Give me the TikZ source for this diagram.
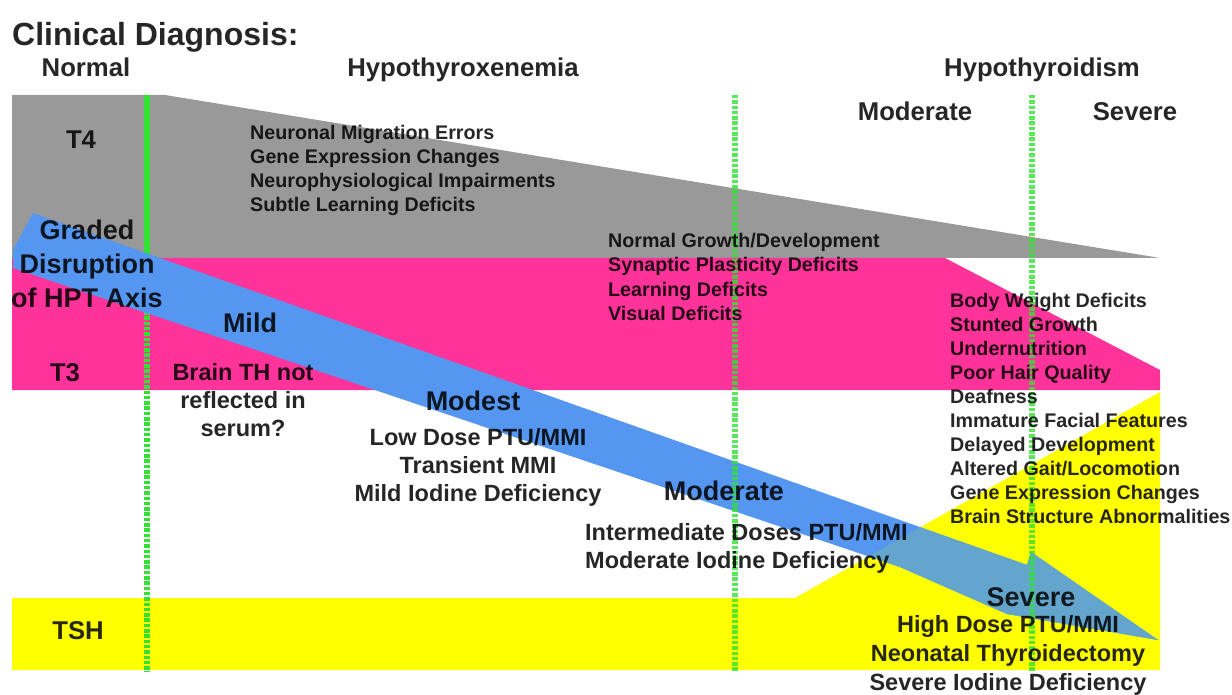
\documentclass[tikz,border=0pt]{standalone}
\usepackage{fontspec}
\setmainfont{Liberation Sans}

\definecolor{tfour}{RGB}{153,153,153}
\definecolor{tthree}{RGB}{255,51,153}
\definecolor{tsh}{RGB}{255,255,0}
\definecolor{hpt}{RGB}{85,150,240}
\definecolor{hptsh}{RGB}{100,165,205}
\definecolor{cut}{RGB}{50,225,50}

\begin{document}
\begin{tikzpicture}[x=1pt,y=-1pt,
  every node/.style={inner sep=0pt, text=black, text opacity=.85},
  big/.style={font=\bfseries\fontsize{32}{36}\selectfont},
  hdg/.style={font=\bfseries\fontsize{25.7}{30}\selectfont},
  band/.style={font=\bfseries\fontsize{27}{34}\selectfont},
  mid/.style={font=\bfseries\fontsize{23.5}{28}\selectfont},
  lst/.style={font=\bfseries\fontsize{19.7}{24}\selectfont},
  border/.style={cut, line width=6pt, dash pattern=on 3.5pt off 1.8pt}]
\useasboundingbox (0,0) rectangle (1232,695);
% hormone levels
\fill[tfour] (12,95) -- (165,95) -- (1160,258) -- (12,258) -- cycle;
\fill[tthree] (12,258) -- (945,258) -- (1160,370) -- (1160,390) -- (12,390) -- cycle;
\fill[tsh] (12,598) -- (795,598) -- (1160,392) -- (1160,670) -- (12,670) -- cycle;
\draw[cut, line width=6pt] (147,95) -- (147,258);
\draw[border] (147,258) -- (147,672);
% graded disruption arrow
\fill[hpt] (33,213) -- (1027,565) -- (1031,552) -- (1158,640) -- (1007,614)
  -- (900,567) -- (13,268) -- (13,250) -- cycle;
\begin{scope}
\clip (12,598) -- (795,598) -- (1160,392) -- (1160,670) -- (12,670) -- cycle;
\fill[hptsh] (33,213) -- (1027,565) -- (1031,552) -- (1158,640) -- (1007,614)
  -- (900,567) -- (13,268) -- (13,250) -- cycle;
\end{scope}
% diagnosis borders
\foreach \x in {735,1032}
\draw[border, draw opacity=.8] (\x,95) -- (\x,672);
% headings
\node[big, anchor=base west] (title) at (12,46) {Clinical Diagnosis:};
\node[hdg, anchor=base] (normal) at (86,77) {Normal};
\node[hdg, anchor=base] (hypox) at (463,77) {Hypothyroxenemia};
\node[hdg, anchor=base] (hypot) at (1042,77) {Hypothyroidism};
\node[hdg, anchor=base] (modhead) at (915,121) {Moderate};
\node[hdg, anchor=base] (sevhead) at (1135,121) {Severe};
\node[hdg, anchor=base] (tfourlbl) at (81,149) {T4};
\node[hdg, anchor=base] (tthreelbl) at (65,381) {T3};
\node[hdg, anchor=base] (tshlbl) at (78,639) {TSH};
% effects
\foreach \t [count=\i] in {Neuronal Migration Errors, Gene Expression Changes,
  Neurophysiological Impairments, Subtle Learning Deficits}
\node[lst, anchor=base west] (grayfx\i) at (250,{116+24*\i}) {\t};
\foreach \t [count=\i] in {Normal Growth/Development, Synaptic Plasticity Deficits,
  Learning Deficits, Visual Deficits}
\node[lst, anchor=base west] (midfx\i) at (608,{224+24*\i}) {\t};
\foreach \t [count=\i] in {Body Weight Deficits, Stunted Growth, Undernutrition,
  Poor Hair Quality, Deafness, Immature Facial Features, Delayed Development,
  Altered Gait/Locomotion, Gene Expression Changes, Brain Structure Abnormalities}
\node[lst, anchor=base west] (sevfx\i) at (950,{283+24*\i}) {\t};
% along the arrow
\node[band, align=center, anchor=north] (graded) at (87,220) {Graded\\Disruption\\of HPT Axis};
\node[band, anchor=base] (mild) at (250,332) {Mild};
\node[mid, align=center, anchor=north] (brainth) at (243,363) {Brain TH not\\reflected in\\serum?};
\node[band, anchor=base] (modest) at (473,410) {Modest};
\node[mid, align=center, anchor=north] (modestex) at (478,428) {Low Dose PTU/MMI\\Transient MMI\\Mild Iodine Deficiency};
\node[band, anchor=base] (moderate) at (724,500) {Moderate};
\node[mid, align=left, anchor=north west] (moderateex) at (585,523) {Intermediate Doses PTU/MMI\\Moderate Iodine Deficiency};
\node[band, anchor=base] (severe) at (1031,606) {Severe};
\node[mid, align=center, anchor=north, font=\bfseries\fontsize{23.5}{29}\selectfont] (severeex) at (1008,615) {High Dose PTU/MMI\\Neonatal Thyroidectomy\\Severe Iodine Deficiency};
\end{tikzpicture}
\end{document}
